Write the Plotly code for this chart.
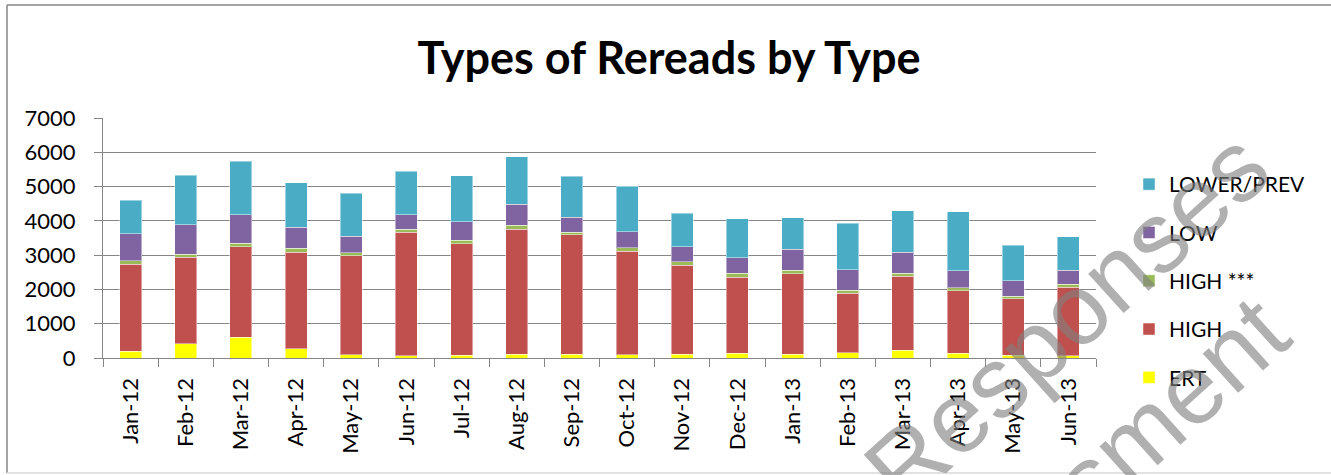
import plotly.graph_objects as go

# ---- data ----
categories = ["Jan-12", "Feb-12", "Mar-12", "Apr-12", "May-12", "Jun-12", "Jul-12", "Aug-12", "Sep-12",
              "Oct-12", "Nov-12", "Dec-12", "Jan-13", "Feb-13", "Mar-13", "Apr-13", "May-13", "Jun-13"]
ert = [200, 410, 600, 270, 90, 60, 80, 110, 110, 90, 110, 135, 110, 155, 225, 145, 80, 70]
high = [2540, 2535, 2640, 2820, 2895, 3615, 3255, 3650, 3480, 3030, 2600, 2225, 2350, 1730, 2155, 1810, 1650, 2000]
high_star = [90, 80, 105, 105, 90, 80, 95, 115, 80, 95, 100, 115, 95, 90, 90, 90, 70, 80]
low = [790, 855, 835, 620, 475, 430, 545, 615, 430, 465, 440, 450, 620, 600, 620, 495, 455, 410]
lower_prev = [980, 1450, 1565, 1300, 1255, 1260, 1340, 1380, 1195, 1330, 970, 1130, 915, 1350, 1205, 1720, 1040, 980]
y_ticks = [0, 1000, 2000, 3000, 4000, 5000, 6000, 7000]

series = [
    ("ERT", ert, "#FFFF00"),
    ("HIGH", high, "#C0504D"),
    ("HIGH ***", high_star, "#9BBB59"),
    ("LOW", low, "#8064A2"),
    ("LOWER/PREV", lower_prev, "#4BACC6"),
]

FONT = "Lato"
W, H = 1331, 475
L, R, T, B = 103, 235, 118, 117
PW, PH = W - L - R, H - T - B


def px_x(px):
    return (px - L) / PW


def px_y(py):
    return (H - B - py) / PH


fig = go.Figure()
n = len(series)
for i, (name, vals, col) in enumerate(series):
    fig.add_trace(go.Bar(
        x=categories, y=vals, name=name, legendgroup=name, legendrank=n - i,
        marker=dict(color=col, line=dict(color="rgba(255,255,255,0.45)", width=1)),
    ))

fig.update_layout(
    barmode="stack",
    bargap=0.6,
    width=W, height=H,
    margin=dict(l=L, r=R, t=T, b=B),
    paper_bgcolor="white",
    plot_bgcolor="white",
    font=dict(family=FONT, size=22, color="black"),
    title=dict(text="<b>Types of Rereads by Type</b>", x=669 / W, xanchor="center",
               y=1 - 58 / H, yanchor="middle", font=dict(family=FONT, size=45, color="black")),
    legend=dict(x=px_x(1129), xanchor="left", y=px_y(164), yanchor="top",
                traceorder="grouped", tracegroupgap=18,
                font=dict(family=FONT, size=21, color="black"),
                bgcolor="rgba(0,0,0,0)"),
    showlegend=True,
)

fig.update_yaxes(range=[0, 7000], tickvals=y_ticks, showgrid=True, gridcolor="#868686", gridwidth=1.3,
                 showline=True, linecolor="#868686", linewidth=1.3,
                 ticks="outside", ticklen=8, tickcolor="#868686", tickwidth=1.3,
                 ticklabelstandoff=14, zeroline=False, tickfont=dict(size=22))
fig.update_xaxes(showline=True, linecolor="#868686", linewidth=1.3, ticks="outside", ticklen=8,
                 tickcolor="#868686", tickwidth=1.3, tickson="boundaries", tickangle=-90,
                 ticklabelstandoff=10, tickfont=dict(size=22))

# chart frame
fig.add_shape(type="line", xref="paper", yref="paper", x0=px_x(7), x1=px_x(7), y0=px_y(5), y1=px_y(473),
              line=dict(color="#868686", width=1.5))
fig.add_shape(type="line", xref="paper", yref="paper", x0=px_x(7), x1=px_x(1335), y0=px_y(5), y1=px_y(5),
              line=dict(color="#868686", width=1.5))
fig.add_shape(type="line", xref="paper", yref="paper", x0=px_x(7), x1=px_x(1335), y0=px_y(473), y1=px_y(473),
              line=dict(color="#d9d9d9", width=1.5))

# watermark
wm = dict(xref="paper", yref="paper", showarrow=False, textangle=-42, xanchor="center", yanchor="middle",
          font=dict(family="Liberation Sans", size=100, color="rgba(128,128,128,0.62)"))
fig.add_annotation(text="Responses", x=px_x(1066), y=px_y(318), **wm)
fig.add_annotation(text="Assessment", x=px_x(1069), y=px_y(498), **wm)

fig.write_html("out.html", config={"displayModeBar": False},
               post_script="document.body.style.margin='0';")
